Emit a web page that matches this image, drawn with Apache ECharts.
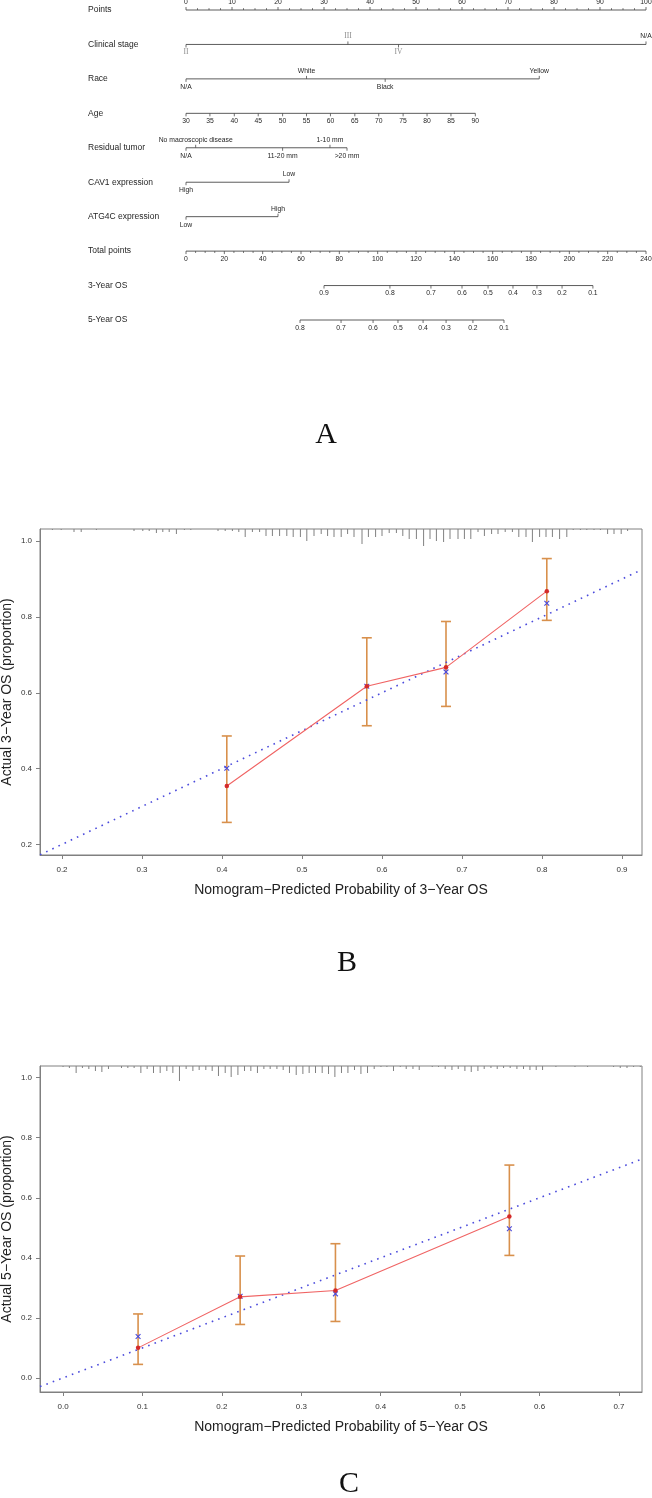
<!DOCTYPE html>
<html>
<head>
<meta charset="utf-8">
<script src="https://cdn.jsdelivr.net/npm/echarts@6/dist/echarts.min.js"></script>
<style>
  html, body { margin: 0; padding: 0; background: #fff; }
  #chart { width: 652px; height: 1498px; }
</style>
</head>
<body>
<div id="chart"></div>
<script>
// ---------- A: nomogram ----------
const rowNames = ['Points', 'Clinical stage', 'Race', 'Age', 'Residual tumor',
  'CAV1 expression', 'ATG4C expression', 'Total points', '3-Year OS', '5-Year OS']

const pointsTicks = [0, 10, 20, 30, 40, 50, 60, 70, 80, 90, 100]
const stageLabels = ['II', 'III', 'IV', 'N/A']
const stagePoints = [0, 35.2, 46.2, 100]
const raceLabels = ['N/A', 'White', 'Black', 'Yellow']
const racePoints = [0, 26.2, 43.3, 76.8]
const ageTicks = [30, 35, 40, 45, 50, 55, 60, 65, 70, 75, 80, 85, 90]
const agePoints = [0, 5.2, 10.5, 15.7, 21.0, 26.2, 31.4, 36.7, 41.9, 47.2, 52.4, 57.6, 62.9]
const residualLabels = ['N/A', 'No macroscopic disease', '11-20 mm', '1-10 mm', '>20 mm']
const residualPoints = [0, 2.1, 21.0, 31.3, 35.0]
const cav1Labels = ['High', 'Low']
const cav1Points = [0, 22.4]
const atg4cLabels = ['Low', 'High']
const atg4cPoints = [0, 20.0]
const totalTicks = [0, 20, 40, 60, 80, 100, 120, 140, 160, 180, 200, 220, 240]
const os3Labels = ['0.9', '0.8', '0.7', '0.6', '0.5', '0.4', '0.3', '0.2', '0.1']
const os3Total = [72.0, 106.4, 127.8, 144.0, 157.6, 170.6, 183.1, 196.2, 212.3]
const os5Labels = ['0.8', '0.7', '0.6', '0.5', '0.4', '0.3', '0.2', '0.1']
const os5Total = [59.5, 80.9, 97.6, 110.6, 123.7, 135.7, 149.7, 165.9]

// ---------- B: 3-year calibration ----------
const predB = [0.406, 0.581, 0.680, 0.806]
const obsB = [0.354, 0.617, 0.667, 0.868]
const corrB = [0.401, 0.617, 0.655, 0.836]
const loB = [0.258, 0.513, 0.564, 0.791]
const hiB = [0.486, 0.745, 0.788, 0.954]
const xRangeB = [0.1725, 0.925]
const yRangeB = [0.172, 1.032]
const xTicksB = [0.2, 0.3, 0.4, 0.5, 0.6, 0.7, 0.8, 0.9]
const yTicksB = [0.2, 0.4, 0.6, 0.8, 1.0]
const rugXB = [0.188, 0.199, 0.215, 0.224, 0.243, 0.290, 0.301, 0.309, 0.318, 0.326, 0.334, 0.343,
  0.353, 0.361, 0.395, 0.404, 0.413, 0.421, 0.429, 0.438, 0.447, 0.455, 0.463, 0.472, 0.481, 0.489,
  0.498, 0.506, 0.515, 0.524, 0.532, 0.540, 0.549, 0.557, 0.565, 0.575, 0.583, 0.592, 0.600, 0.609,
  0.618, 0.626, 0.634, 0.643, 0.652, 0.660, 0.668, 0.677, 0.685, 0.695, 0.703, 0.711, 0.720, 0.728,
  0.737, 0.745, 0.754, 0.763, 0.771, 0.780, 0.788, 0.797, 0.805, 0.813, 0.822, 0.831, 0.839, 0.848,
  0.856, 0.865, 0.873, 0.882, 0.890, 0.899, 0.907]
const rugFreqB = [1, 1, 3, 3, 1, 2, 2, 2, 4, 3, 3, 5, 1, 1, 2, 2, 2, 3, 8, 3, 3, 7, 7, 7, 7, 8, 8, 12, 7, 5, 7,
  8, 8, 5, 8, 15, 8, 8, 7, 4, 4, 7, 10, 10, 17, 10, 12, 13, 10, 10, 10, 10, 3, 7, 5, 5, 3, 3, 8, 8, 13, 8, 8,
  8, 10, 8, 1, 1, 1, 1, 1, 5, 5, 5, 2]

// ---------- C: 5-year calibration ----------
const predC = [0.0945, 0.223, 0.343, 0.562]
const obsC = [0.100, 0.270, 0.291, 0.538]
const corrC = [0.138, 0.272, 0.280, 0.497]
const loC = [0.045, 0.178, 0.188, 0.408]
const hiC = [0.213, 0.406, 0.447, 0.709]
const xRangeC = [-0.029, 0.729]
const yRangeC = [-0.047, 1.039]
const xTicksC = [0.0, 0.1, 0.2, 0.3, 0.4, 0.5, 0.6, 0.7]
const yTicksC = [0.0, 0.2, 0.4, 0.6, 0.8, 1.0]
const rugXC = [0.000, 0.008, 0.0165, 0.0244, 0.0325, 0.0408, 0.0489, 0.0572, 0.0736, 0.0816, 0.0895,
  0.098, 0.1059, 0.1139, 0.1223, 0.1307, 0.1383, 0.1466, 0.155, 0.1635, 0.1714, 0.1798, 0.1878, 0.1957,
  0.2042, 0.2117, 0.2202, 0.2285, 0.2365, 0.2448, 0.2529, 0.2608, 0.2693, 0.2772, 0.2851, 0.2936, 0.302,
  0.3099, 0.3179, 0.3263, 0.3343, 0.3423, 0.3506, 0.3587, 0.367, 0.3751, 0.3834, 0.3918, 0.4003, 0.4078,
  0.4161, 0.4246, 0.4321, 0.4406, 0.4485, 0.4649, 0.4728, 0.4812, 0.4897, 0.4976, 0.506, 0.514, 0.5224,
  0.5303, 0.5388, 0.5467, 0.5547, 0.563, 0.5715, 0.5798, 0.5879, 0.5958, 0.6038, 0.6206, 0.6446, 0.6605,
  0.6932, 0.7016, 0.7101, 0.7184, 0.7268]
const rugFreqC = [1, 2, 7, 2, 3, 5, 6, 3, 2, 2, 2, 7, 3, 7, 7, 5, 7, 15, 3, 5, 4, 4, 5, 10, 7, 11, 9, 5, 5, 7,
  3, 3, 3, 4, 7, 9, 8, 7, 7, 7, 8, 11, 7, 7, 4, 8, 7, 3, 1, 1, 5, 1, 3, 3, 4, 1, 1, 3, 4, 3, 5, 6, 5, 3, 2,
  3, 2, 2, 3, 3, 4, 4, 4, 1, 1, 1, 1, 2, 2, 1, 1]

// ---------- styles ----------
const SANS = '"Liberation Sans", Arial, sans-serif'
const SERIF = '"Liberation Serif", "Times New Roman", serif'
const NOMO_LINE = '#4a4a4a'
const NOMO_TEXT = '#262626'
const AXIS_COLOR = '#808080'
const ERR_COLOR = '#D8904C'
const RED_LINE = '#F06464'
const RED_PT = '#D42A2A'
const BLUE = '#4B4BDC'
const RUG_PX = 1

// build nomogram tick items
const pointItems = []   // on the points scale (xAxis 0)
const totalItems = []   // on the total points scale (xAxis 1)
const linesPoints = []  // [start, end, row]
const linesTotal = []

function addMinor (list, ticks, row, side, parts) {
  for (let i = 0; i < ticks.length - 1; i++) {
    for (let k = 1; k < parts; k++) {
      list.push({ x: ticks[i] + (ticks[i + 1] - ticks[i]) * k / parts, row, label: '', side, len: 1.8 })
    }
  }
}

// Points
pointsTicks.forEach(v => pointItems.push({ x: v, row: 0, label: String(v), side: -1, len: 3 }))
addMinor(pointItems, pointsTicks, 0, -1, 4)
linesPoints.push([0, 100, 0])

function addCategorical (labels, pts, row, serifIdx) {
  labels.forEach((lab, i) => {
    pointItems.push({
      x: pts[i], row, label: lab, side: i % 2 === 0 ? 1 : -1, len: 3,
      serif: serifIdx ? serifIdx.includes(i) : false
    })
  })
  linesPoints.push([Math.min(...pts), Math.max(...pts), row])
}
addCategorical(stageLabels, stagePoints, 1, [0, 1, 2])
addCategorical(raceLabels, racePoints, 2)
ageTicks.forEach((v, i) => pointItems.push({ x: agePoints[i], row: 3, label: String(v), side: 1, len: 3 }))
linesPoints.push([agePoints[0], agePoints[agePoints.length - 1], 3])
addCategorical(residualLabels, residualPoints, 4)
addCategorical(cav1Labels, cav1Points, 5)
addCategorical(atg4cLabels, atg4cPoints, 6)

// Total points and survival scales
totalTicks.forEach(v => totalItems.push({ x: v, row: 7, label: String(v), side: 1, len: 3 }))
addMinor(totalItems, totalTicks, 7, 1, 4)
linesTotal.push([0, 240, 7])
os3Labels.forEach((lab, i) => totalItems.push({ x: os3Total[i], row: 8, label: lab, side: 1, len: 3 }))
linesTotal.push([os3Total[0], os3Total[os3Total.length - 1], 8])
os5Labels.forEach((lab, i) => totalItems.push({ x: os5Total[i], row: 9, label: lab, side: 1, len: 3 }))
linesTotal.push([os5Total[0], os5Total[os5Total.length - 1], 9])

function tickRenderer (items) {
  return function (params, api) {
    const d = items[params.dataIndex]
    const p = api.coord([d.x, d.row])
    const children = [{
      type: 'line',
      shape: { x1: p[0], y1: p[1], x2: p[0], y2: p[1] + d.side * d.len },
      style: { stroke: NOMO_LINE, lineWidth: 0.8 }
    }]
    if (d.label) {
      children.push({
        type: 'text',
        x: p[0],
        y: p[1] + d.side * 8,
        style: {
          text: d.label,
          fill: d.serif ? '#8a8a8a' : NOMO_TEXT,
          fontSize: d.serif ? 7.5 : 6.8,
          fontFamily: d.serif ? SERIF : SANS,
          align: 'center',
          verticalAlign: 'middle'
        }
      })
    }
    return { type: 'group', children }
  }
}

function segRenderer (params, api) {
  const a = api.coord([api.value(0), api.value(2)])
  const b = api.coord([api.value(1), api.value(2)])
  return {
    type: 'line',
    shape: { x1: a[0], y1: a[1], x2: b[0], y2: b[1] },
    style: { stroke: NOMO_LINE, lineWidth: 0.9 }
  }
}

function rowNameRenderer (params, api) {
  const p = api.coord([0, api.value(1)])
  return {
    type: 'text',
    x: 88,
    y: p[1],
    style: {
      text: rowNames[params.dataIndex],
      fill: NOMO_TEXT,
      fontSize: 8.5,
      fontFamily: SANS,
      align: 'left',
      verticalAlign: 'middle'
    }
  }
}

function rugRenderer (params, api) {
  const p = api.coord([api.value(0), 0])
  const top = params.coordSys.y
  return {
    type: 'line',
    shape: { x1: p[0], y1: top, x2: p[0], y2: top + api.value(1) * RUG_PX },
    style: { stroke: AXIS_COLOR, lineWidth: 1 }
  }
}

function errRenderer (params, api) {
  const x = api.value(0)
  const lo = api.coord([x, api.value(1)])
  const hi = api.coord([x, api.value(2)])
  const w = 5
  const style = { stroke: ERR_COLOR, lineWidth: 1.6 }
  return {
    type: 'group',
    children: [
      { type: 'line', shape: { x1: lo[0], y1: lo[1], x2: hi[0], y2: hi[1] }, style },
      { type: 'line', shape: { x1: lo[0] - w, y1: lo[1], x2: lo[0] + w, y2: lo[1] }, style },
      { type: 'line', shape: { x1: hi[0] - w, y1: hi[1], x2: hi[0] + w, y2: hi[1] }, style }
    ]
  }
}

function crossRenderer (params, api) {
  const p = api.coord([api.value(0), api.value(1)])
  const s = 2.4
  const style = { stroke: BLUE, lineWidth: 1.1 }
  return {
    type: 'group',
    children: [
      { type: 'line', shape: { x1: p[0] - s, y1: p[1] - s, x2: p[0] + s, y2: p[1] + s }, style },
      { type: 'line', shape: { x1: p[0] - s, y1: p[1] + s, x2: p[0] + s, y2: p[1] - s }, style }
    ]
  }
}

const zip = (a, b) => a.map((v, i) => [v, b[i]])

function calibAxes (gridIndex, xRange, xTicks, yRange, yTicks, xName, yName) {
  const fmt = v => Number(v).toFixed(1)
  return {
    x: {
      type: 'value', gridIndex, min: xRange[0], max: xRange[1],
      axisLine: { show: true, onZero: false, lineStyle: { color: AXIS_COLOR } },
      axisTick: { show: true, length: 4, customValues: xTicks, lineStyle: { color: AXIS_COLOR } },
      axisLabel: { customValues: xTicks, formatter: fmt, fontSize: 8, color: '#333', fontFamily: SANS, margin: 11 },
      splitLine: { show: false },
      name: xName, nameLocation: 'middle', nameGap: 28, nameMoveOverlap: false,
      nameTextStyle: { fontSize: 14, color: '#222', fontFamily: SANS }
    },
    y: {
      type: 'value', gridIndex, min: yRange[0], max: yRange[1],
      axisLine: { show: true, onZero: false, lineStyle: { color: AXIS_COLOR } },
      axisTick: { show: true, length: 4, customValues: yTicks, lineStyle: { color: AXIS_COLOR } },
      axisLabel: { customValues: yTicks, formatter: fmt, fontSize: 8, color: '#333', fontFamily: SANS, margin: 8 },
      splitLine: { show: false },
      name: yName, nameLocation: 'middle', nameGap: 26, nameRotate: 90, nameMoveOverlap: false,
      nameTextStyle: { fontSize: 14, color: '#222', fontFamily: SANS }
    }
  }
}

const axB = calibAxes(1, xRangeB, xTicksB, yRangeB, yTicksB,
  'Nomogram\u2212Predicted Probability of 3\u2212Year OS', 'Actual 3\u2212Year OS (proportion)')
const axC = calibAxes(2, xRangeC, xTicksC, yRangeC, yTicksC,
  'Nomogram\u2212Predicted Probability of 5\u2212Year OS', 'Actual 5\u2212Year OS (proportion)')

function calibSeries (xIdx, yIdx, pred, obs, corr, lo, hi, rugX, rugF, range) {
  return [
    {
      type: 'custom', xAxisIndex: xIdx, yAxisIndex: yIdx, clip: false,
      renderItem: rugRenderer, data: zip(rugX, rugF)
    },
    {
      type: 'line', xAxisIndex: xIdx, yAxisIndex: yIdx, symbol: 'none',
      data: [[range[0], range[0]], [range[1], range[1]]],
      lineStyle: { color: BLUE, width: 1.6, type: [1.6, 5.2] }
    },
    {
      type: 'custom', xAxisIndex: xIdx, yAxisIndex: yIdx,
      renderItem: errRenderer, data: pred.map((v, i) => [v, lo[i], hi[i]])
    },
    {
      type: 'line', xAxisIndex: xIdx, yAxisIndex: yIdx,
      data: zip(pred, obs), symbol: 'circle', symbolSize: 4.5,
      itemStyle: { color: RED_PT }, lineStyle: { color: RED_LINE, width: 1.1 }
    },
    {
      type: 'custom', xAxisIndex: xIdx, yAxisIndex: yIdx,
      renderItem: crossRenderer, data: zip(pred, corr)
    }
  ]
}

const chart = echarts.init(document.getElementById('chart'), null, { renderer: 'canvas' })

const option = {
  backgroundColor: '#fff',
  animation: false,
  grid: [
    { left: 186, top: 10, width: 460, height: 310, show: false, outerBoundsMode: 'none', containLabel: false },
    { left: 40, top: 529, width: 602, height: 326, show: true, borderColor: AXIS_COLOR, borderWidth: 1, outerBoundsMode: 'none', containLabel: false },
    { left: 40, top: 1066, width: 602, height: 326, show: true, borderColor: AXIS_COLOR, borderWidth: 1, outerBoundsMode: 'none', containLabel: false }
  ],
  xAxis: [
    { type: 'value', gridIndex: 0, min: 0, max: 100, show: false },
    { type: 'value', gridIndex: 0, min: 0, max: 240, show: false },
    axB.x,
    axC.x
  ],
  yAxis: [
    { type: 'value', gridIndex: 0, min: 0, max: 9, inverse: true, show: false },
    axB.y,
    axC.y
  ],
  graphic: [
    { type: 'text', x: 326, y: 435, style: { text: 'A', fontSize: 30, fontFamily: SERIF, fill: '#111', align: 'center', verticalAlign: 'middle' } },
    { type: 'text', x: 347, y: 963, style: { text: 'B', fontSize: 30, fontFamily: SERIF, fill: '#111', align: 'center', verticalAlign: 'middle' } },
    { type: 'text', x: 349, y: 1484, style: { text: 'C', fontSize: 30, fontFamily: SERIF, fill: '#111', align: 'center', verticalAlign: 'middle' } }
  ],
  series: [
    { type: 'custom', xAxisIndex: 0, yAxisIndex: 0, clip: false, renderItem: segRenderer, data: linesPoints },
    { type: 'custom', xAxisIndex: 1, yAxisIndex: 0, clip: false, renderItem: segRenderer, data: linesTotal },
    { type: 'custom', xAxisIndex: 0, yAxisIndex: 0, clip: false, renderItem: tickRenderer(pointItems), data: pointItems.map(d => [d.x, d.row]) },
    { type: 'custom', xAxisIndex: 1, yAxisIndex: 0, clip: false, renderItem: tickRenderer(totalItems), data: totalItems.map(d => [d.x, d.row]) },
    { type: 'custom', xAxisIndex: 0, yAxisIndex: 0, clip: false, renderItem: rowNameRenderer, data: rowNames.map((n, i) => [0, i]) },
    ...calibSeries(2, 1, predB, obsB, corrB, loB, hiB, rugXB, rugFreqB, xRangeB),
    ...calibSeries(3, 2, predC, obsC, corrC, loC, hiC, rugXC, rugFreqC, xRangeC)
  ]
}

chart.setOption(option)
</script>
</body>
</html>
